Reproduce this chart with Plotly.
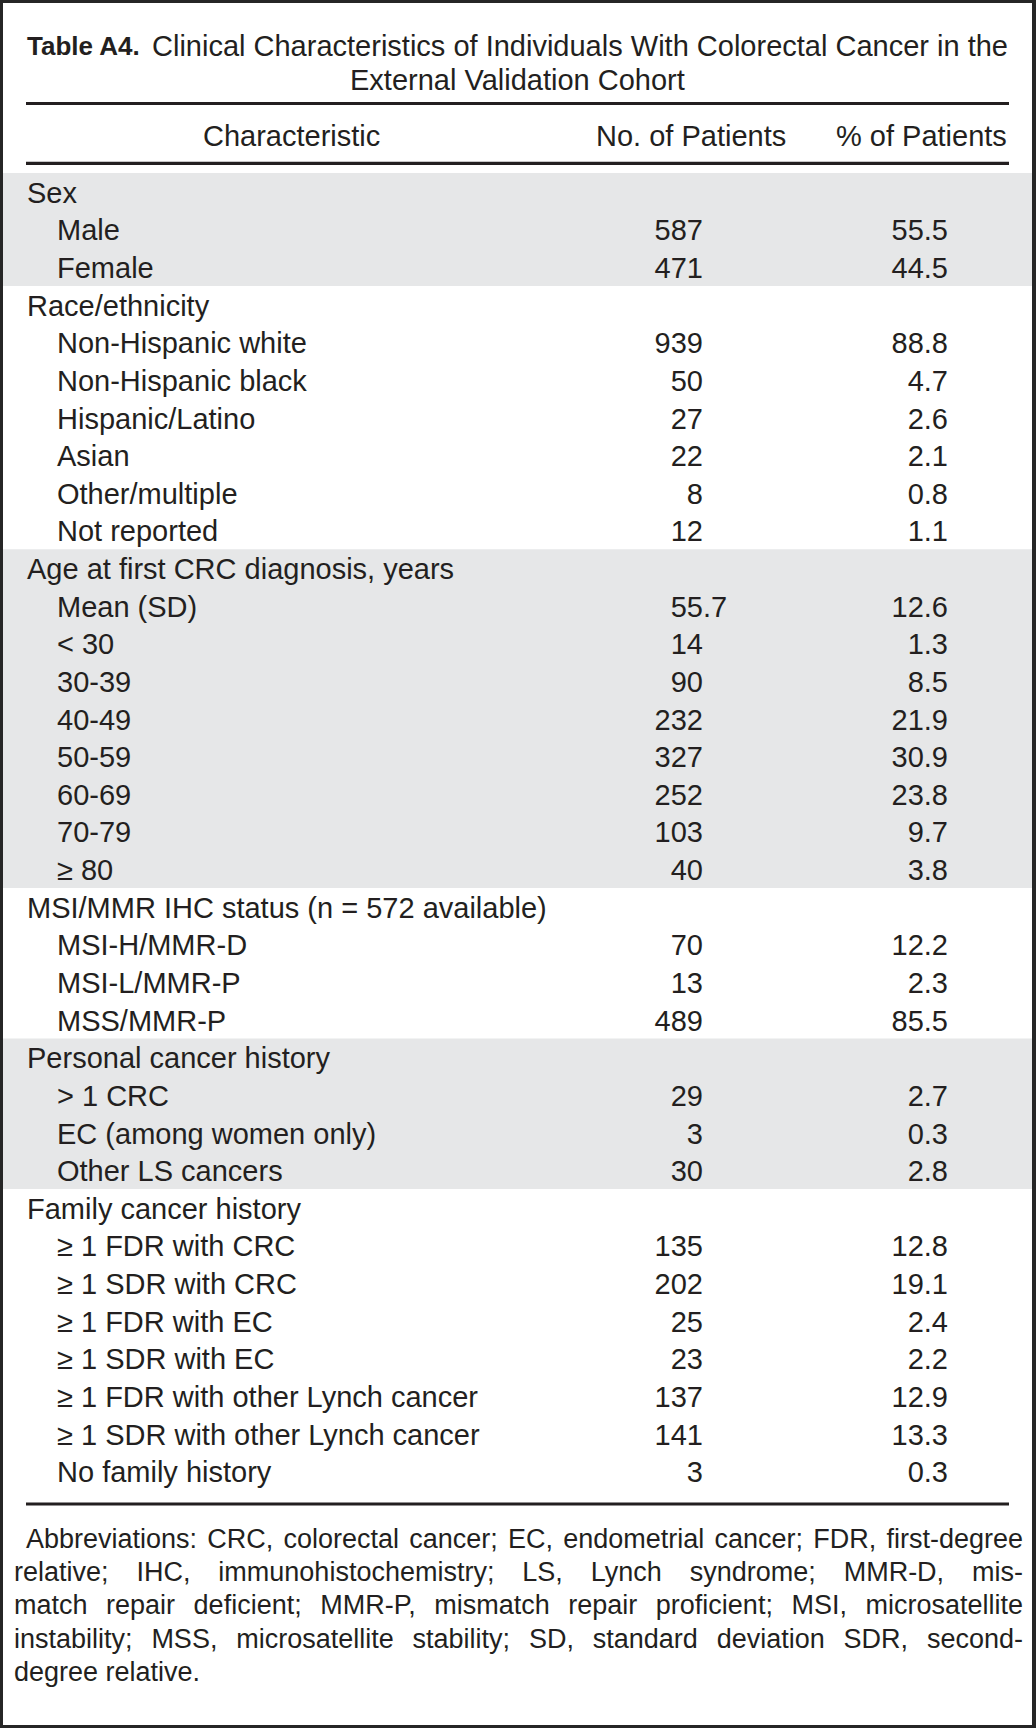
import json
import plotly.graph_objects as go

# ---------------- data ----------------
title_label = "Table A4."
title_line1 = "Clinical Characteristics of Individuals With Colorectal Cancer in the"
title_line2 = "External Validation Cohort"
column_headers = ["Characteristic", "No. of Patients", "% of Patients"]

group_names = [
    "Sex",
    "Race/ethnicity",
    "Age at first CRC diagnosis, years",
    "MSI/MMR IHC status (n = 572 available)",
    "Personal cancer history",
    "Family cancer history",
]

sex_items = ["Male", "Female"]
sex_n = ["587", "471"]
sex_pct = ["55.5", "44.5"]

race_items = ["Non-Hispanic white", "Non-Hispanic black", "Hispanic/Latino",
              "Asian", "Other/multiple", "Not reported"]
race_n = ["939", "50", "27", "22", "8", "12"]
race_pct = ["88.8", "4.7", "2.6", "2.1", "0.8", "1.1"]

age_items = ["Mean (SD)", "< 30", "30-39", "40-49", "50-59", "60-69", "70-79", "≥ 80"]
age_n = ["55.7", "14", "90", "232", "327", "252", "103", "40"]
age_pct = ["12.6", "1.3", "8.5", "21.9", "30.9", "23.8", "9.7", "3.8"]

msi_items = ["MSI-H/MMR-D", "MSI-L/MMR-P", "MSS/MMR-P"]
msi_n = ["70", "13", "489"]
msi_pct = ["12.2", "2.3", "85.5"]

personal_items = ["> 1 CRC", "EC (among women only)", "Other LS cancers"]
personal_n = ["29", "3", "30"]
personal_pct = ["2.7", "0.3", "2.8"]

family_items = ["≥ 1 FDR with CRC", "≥ 1 SDR with CRC", "≥ 1 FDR with EC",
                "≥ 1 SDR with EC", "≥ 1 FDR with other Lynch cancer",
                "≥ 1 SDR with other Lynch cancer", "No family history"]
family_n = ["135", "202", "25", "23", "137", "141", "3"]
family_pct = ["12.8", "19.1", "2.4", "2.2", "12.9", "13.3", "0.3"]

footnote_lines = [
    "Abbreviations: CRC, colorectal cancer; EC, endometrial cancer; FDR, first-degree",
    "relative; IHC, immunohistochemistry; LS, Lynch syndrome; MMR-D, mis-",
    "match repair deficient; MMR-P, mismatch repair proficient; MSI, microsatellite",
    "instability; MSS, microsatellite stability; SD, standard deviation SDR, second-",
    "degree relative.",
]

# ---------------- layout constants ----------------
W, H = 1036, 1728
TEXT = "#231f20"
GRAY = "#e6e7e8"
FONT = "Liberation Sans, Arial, sans-serif"
FS = 29
ROW0 = 193.0
PITCH = 37.63
Y_SHIFT = 2.5
X_GROUP = 27
X_ITEM = 57
X_N = 703
X_PCT = 948
RULE_L, RULE_R = 26, 1009


def esc(s):
    return s.replace("<", "&lt;").replace(">", "&gt;")


groups = [
    (group_names[0], sex_items, sex_n, sex_pct),
    (group_names[1], race_items, race_n, race_pct),
    (group_names[2], age_items, age_n, age_pct),
    (group_names[3], msi_items, msi_n, msi_pct),
    (group_names[4], personal_items, personal_n, personal_pct),
    (group_names[5], family_items, family_n, family_pct),
]

rows = []  # (label, n, pct, group index, level)
group_spans = []
for gi, (gname, items, ns, pcts) in enumerate(groups):
    start = len(rows)
    rows.append((gname, None, None, gi, 0))
    for it, n, p in zip(items, ns, pcts):
        rows.append((it, n, p, gi, 1))
    group_spans.append((start, len(rows)))

row_y = [ROW0 + Y_SHIFT + i * PITCH for i in range(len(rows))]

fig = go.Figure()

shapes = []
# gray bands for alternating groups
for gi, (s, e) in enumerate(group_spans):
    if gi % 2 == 0:
        shapes.append(dict(type="rect", x0=3, x1=W - 4,
                           y0=ROW0 - 20 + s * PITCH, y1=ROW0 - 20 + e * PITCH,
                           fillcolor=GRAY, line=dict(width=0), layer="below"))
# rules
for yy in (103.5, 163.3, 1504):
    shapes.append(dict(type="line", x0=RULE_L, x1=RULE_R, y0=yy, y1=yy,
                       line=dict(color=TEXT, width=3.2)))
# outer frame
FR = "#262626"
shapes += [
    dict(type="rect", x0=0, x1=W, y0=0, y1=3, fillcolor=FR, line=dict(width=0)),
    dict(type="rect", x0=0, x1=W, y0=H - 3, y1=H, fillcolor=FR, line=dict(width=0)),
    dict(type="rect", x0=0, x1=3, y0=0, y1=H, fillcolor=FR, line=dict(width=0)),
    dict(type="rect", x0=W - 4, x1=W, y0=0, y1=H, fillcolor=FR, line=dict(width=0)),
]

font = dict(family=FONT, size=FS, color=TEXT)

# labels
fig.add_trace(go.Scatter(
    x=[X_GROUP if r[4] == 0 else X_ITEM for r in rows],
    y=row_y,
    text=[esc(r[0]) for r in rows],
    mode="text", textposition="middle right", textfont=font,
    hoverinfo="skip", showlegend=False))

# No. of patients (decimal aligned)
n_rows = [(y, r[1]) for y, r in zip(row_y, rows) if r[1] is not None]
fig.add_trace(go.Scatter(
    x=[X_N] * len(n_rows), y=[y for y, _ in n_rows],
    text=[v.split(".")[0] for _, v in n_rows],
    mode="text", textposition="middle left", textfont=font,
    hoverinfo="skip", showlegend=False))
frac_rows = [(y, v) for y, v in n_rows if "." in v]
fig.add_trace(go.Scatter(
    x=[X_N] * len(frac_rows), y=[y for y, _ in frac_rows],
    text=["." + v.split(".")[1] for _, v in frac_rows],
    mode="text", textposition="middle right", textfont=font,
    hoverinfo="skip", showlegend=False))

# % of patients
p_rows = [(y, r[2]) for y, r in zip(row_y, rows) if r[2] is not None]
fig.add_trace(go.Scatter(
    x=[X_PCT] * len(p_rows), y=[y for y, _ in p_rows],
    text=[v for _, v in p_rows],
    mode="text", textposition="middle left", textfont=font,
    hoverinfo="skip", showlegend=False))

annotations = []
# title
annotations.append(dict(x=25, y=46, text="<b>" + title_label + "</b>", xanchor="left",
                        yanchor="middle", showarrow=False, align="left",
                        font=dict(family=FONT, size=26, color=TEXT)))
annotations.append(dict(x=150, y=46, text=title_line1, xanchor="left", yanchor="middle",
                        showarrow=False, align="left",
                        font=dict(family=FONT, size=29, color=TEXT)))
annotations.append(dict(x=(RULE_L + RULE_R) / 2, y=80, text=title_line2, xanchor="center",
                        yanchor="middle", showarrow=False,
                        font=dict(family=FONT, size=29, color=TEXT)))
# headers
annotations.append(dict(x=291, y=136, text=column_headers[0], xanchor="center", yanchor="middle",
                        showarrow=False, font=font))
annotations.append(dict(x=788, y=136, text=column_headers[1], xanchor="right", yanchor="middle",
                        showarrow=False, font=font))
annotations.append(dict(x=1009, y=136, text=column_headers[2], xanchor="right", yanchor="middle",
                        showarrow=False, font=font))
# footnote
for i, line in enumerate(footnote_lines):
    annotations.append(dict(x=24 if i == 0 else 12, y=1539 + i * 33.2, text=line,
                            xanchor="left", yanchor="middle", showarrow=False, align="left",
                            font=dict(family=FONT, size=27, color=TEXT)))

fig.update_layout(
    width=W, height=H,
    margin=dict(l=0, r=0, t=0, b=0, pad=0),
    paper_bgcolor="white", plot_bgcolor="white",
    xaxis=dict(range=[0, W], visible=False, fixedrange=True),
    yaxis=dict(range=[H, 0], visible=False, fixedrange=True),
    shapes=shapes, annotations=annotations,
)

# justified lines (text -> right edge in px), applied via word-spacing
justify = {title_line1: 1008}
for line in footnote_lines[:4]:
    justify[line] = 1023

post = """
document.body.style.margin = '0';
document.body.style.padding = '0';
var gd = document.getElementById('{plot_id}');
var targets = %s;
var base = gd.getBoundingClientRect();
gd.querySelectorAll('text.annotation-text').forEach(function (t) {
  var s = t.textContent;
  if (targets.hasOwnProperty(s)) {
    var n = (s.match(/ /g) || []).length;
    if (n > 0) {
      var r = t.getBoundingClientRect();
      var cur = r.right - base.left;
      var ws = (targets[s] - cur) / n;
      t.style.wordSpacing = ws + 'px';
    }
  }
});
""" % json.dumps(justify)

fig.write_html("out.html", config={"displayModeBar": False}, post_script=post)
